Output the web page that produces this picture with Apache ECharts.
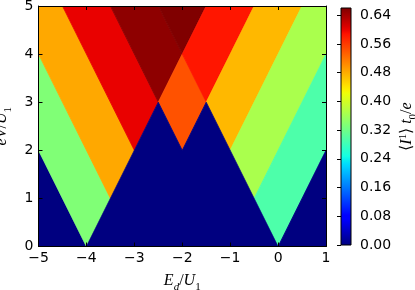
<!DOCTYPE html>
<html><head><meta charset="utf-8">
<script src="https://cdn.jsdelivr.net/npm/echarts@6/dist/echarts.min.js"></script>
<style>html,body{margin:0;padding:0;background:#fff}#c{width:415px;height:290px}</style>
</head><body><div id="c"></div>
<script>
// ---- data ----
const xTicks = [-5, -4, -3, -2, -1, 0, 1];
const yTicks = [0, 1, 2, 3, 4, 5];
const cbTicks = [0.00, 0.08, 0.16, 0.24, 0.32, 0.40, 0.48, 0.56, 0.64];
const cbMax = 0.66;
// constant-current regions (Coulomb diamonds), vertices in data units (E_d/U_1, eV/U_1)
const regionNames = ['blueLeft','green','orangeL','redL','darkRed','darkest','diamond','redR','yellowR','lightGreen','cyan','blueRight','blueMid'];
const regionX = [
  [-5, -4, -5],
  [-4, -3.5, -5, -5],
  [-3.5, -3, -4.5, -5, -5],
  [-3, -2.5, -3.5, -4.5],
  [-2.5, -2, -2.5, -3.5],
  [-2, -1.5, -2.5],
  [-2.5, -2, -1.5, -2],
  [-2, -1.5, -0.5, -1.5],
  [-1.5, -1, 0.5, -0.5],
  [-1, -0.5, 1, 1, 0.5],
  [-0.5, 0, 1, 1],
  [0, 1, 1],
  [-4, 0, -1.5, -2, -2.5]
];
const regionY = [
  [0, 0, 2],
  [0, 1, 4, 2],
  [1, 2, 5, 5, 4],
  [2, 3, 5, 5],
  [3, 4, 5, 5],
  [4, 5, 5],
  [3, 2, 3, 4],
  [4, 3, 5, 5],
  [3, 2, 5, 5],
  [2, 1, 4, 5, 5],
  [1, 0, 2, 4],
  [0, 0, 2],
  [0, 0, 3, 2, 3]
];
const regionValues = [0, 0.334, 0.483, 0.600, 0.652, 0.660, 0.543, 0.585, 0.472, 0.367, 0.293, 0, 0];

// ---- matplotlib jet ----
const jetSeg = {
  r: [[0,0],[0.35,0],[0.66,1],[0.89,1],[1,0.5]],
  g: [[0,0],[0.125,0],[0.375,1],[0.64,1],[0.91,0],[1,0]],
  b: [[0,0.5],[0.11,1],[0.34,1],[0.65,0],[1,0]]
};
function seg(s, t) {
  t = Math.max(0, Math.min(1, t));
  for (let i = 1; i < s.length; i++) {
    if (t <= s[i][0]) {
      const a = s[i-1], b = s[i];
      return a[1] + (b[1]-a[1]) * (t-a[0]) / (b[0]-a[0]);
    }
  }
  return s[s.length-1][1];
}
function jet(t) {
  const r = Math.round(255*seg(jetSeg.r,t)), g = Math.round(255*seg(jetSeg.g,t)), b = Math.round(255*seg(jetSeg.b,t));
  return 'rgb(' + r + ',' + g + ',' + b + ')';
}

const chart = echarts.init(document.getElementById('c'), null, {renderer: 'canvas'});
const tickFont = {fontFamily: 'DejaVu Sans', fontSize: 14, color: '#000'};
const mathI = {fontFamily: 'Liberation Serif', fontStyle: 'italic', fontSize: 16, color: '#000', lineHeight: 18};
const mathR = {fontFamily: 'Liberation Serif', fontSize: 16, color: '#000', lineHeight: 18};
const subI = {fontFamily: 'Liberation Serif', fontStyle: 'italic', fontSize: 11, color: '#000', verticalAlign: 'bottom', lineHeight: 11, padding: [0,0,-3,0]};
const subR = {fontFamily: 'Liberation Serif', fontSize: 11, color: '#000', verticalAlign: 'bottom', lineHeight: 11, padding: [0,0,-3,0]};
const supR = {fontFamily: 'Liberation Serif', fontSize: 11, color: '#000', verticalAlign: 'top', lineHeight: 11};
const richMath = {i: mathI, r: mathR, si: subI, sr: subR, sp: supR};
const minus = v => (v < 0 ? '\u2212' + Math.abs(v) : String(v));
const axisBase = {
  axisLine: {show: true, onZero: false, lineStyle: {color: '#000', width: 1}},
  axisTick: {show: true, inside: true, length: 4, lineStyle: {color: '#000', width: 1}},
  splitLine: {show: false},
  z: 10
};

chart.setOption({
  animation: false,
  grid: [
    {left: 38.5, top: 6, width: 287.5, height: 240.5, containLabel: false, outerBoundsMode: 'none'},
    {left: 341, top: 8, width: 10, height: 237, containLabel: false, outerBoundsMode: 'none'}
  ],
  xAxis: [
    Object.assign({}, axisBase, {gridIndex: 0, type: 'value', min: xTicks[0], max: xTicks[xTicks.length-1], interval: 1, position: 'bottom',
      axisLabel: Object.assign({margin: 5, formatter: minus}, tickFont),
      name: '{i|E}{si|d}{r|/}{i|U}{sr|1}', nameLocation: 'middle', nameGap: 25,
      nameTextStyle: {rich: richMath}}),
    Object.assign({}, axisBase, {gridIndex: 0, type: 'value', min: xTicks[0], max: xTicks[xTicks.length-1], interval: 1, position: 'top',
      axisLabel: {show: false}}),
    {gridIndex: 1, type: 'value', min: 0, max: 1, show: false}
  ],
  yAxis: [
    Object.assign({}, axisBase, {gridIndex: 0, type: 'value', min: yTicks[0], max: yTicks[yTicks.length-1], interval: 1, position: 'left',
      axisLabel: Object.assign({margin: 5}, tickFont),
      name: '{i|eV}{r|/}{i|U}{sr|1}', nameLocation: 'middle', nameGap: 22, nameRotate: 90,
      nameTextStyle: {rich: richMath}}),
    Object.assign({}, axisBase, {gridIndex: 0, type: 'value', min: yTicks[0], max: yTicks[yTicks.length-1], interval: 1, position: 'right',
      axisLabel: {show: false}}),
    Object.assign({}, axisBase, {gridIndex: 1, type: 'value', min: 0, max: cbMax, interval: 0.08, position: 'right',
      axisLine: {show: false},
      axisLabel: Object.assign({margin: 9, showMaxLabel: false, formatter: v => {
        const k = Math.round(v / 0.08);
        return (Math.abs(k*0.08 - v) < 1e-6 && k < cbTicks.length) ? cbTicks[k].toFixed(2) : '';
      }}, tickFont),
      name: '{r|\u27e8}{i|I}{sp|1}{r|\u27e9 }{i|t}{sr|0}{r|/}{i|e}', nameLocation: 'middle', nameGap: 47, nameRotate: 90,
      nameTextStyle: {rich: richMath}})
  ],
  series: [
    {
      type: 'custom', xAxisIndex: 0, yAxisIndex: 0, clip: true, z: 2,
      encode: {x: 0, y: 1},
      data: regionValues.map((v, i) => [i, v]),
      renderItem: (params, api) => {
        const i = api.value(0), v = api.value(1);
        const pts = regionX[i].map((x, k) => api.coord([x, regionY[i][k]]));
        const col = jet(v / cbMax);
        return {type: 'polygon', shape: {points: pts}, style: {fill: col, stroke: col, lineWidth: 0.8}};
      }
    },
    {
      type: 'custom', xAxisIndex: 2, yAxisIndex: 2, z: 2,
      data: [[0, 0]],
      renderItem: (params, api) => {
        const p0 = api.coord([0, cbMax]), p1 = api.coord([1, 0]);
        const stops = [];
        for (let k = 0; k <= 64; k++) stops.push({offset: k/64, color: jet(k/64)});
        const rect = {x: p0[0], y: p0[1], width: p1[0]-p0[0], height: p1[1]-p0[1]};
        return {type: 'group', children: [
          {type: 'rect', shape: rect, style: {fill: new echarts.graphic.LinearGradient(0, 1, 0, 0, stops)}},
          {type: 'rect', shape: rect, style: {fill: 'none', stroke: '#000', lineWidth: 1}, z2: 5}
        ]};
      }
    }
  ]
});
</script></body></html>
